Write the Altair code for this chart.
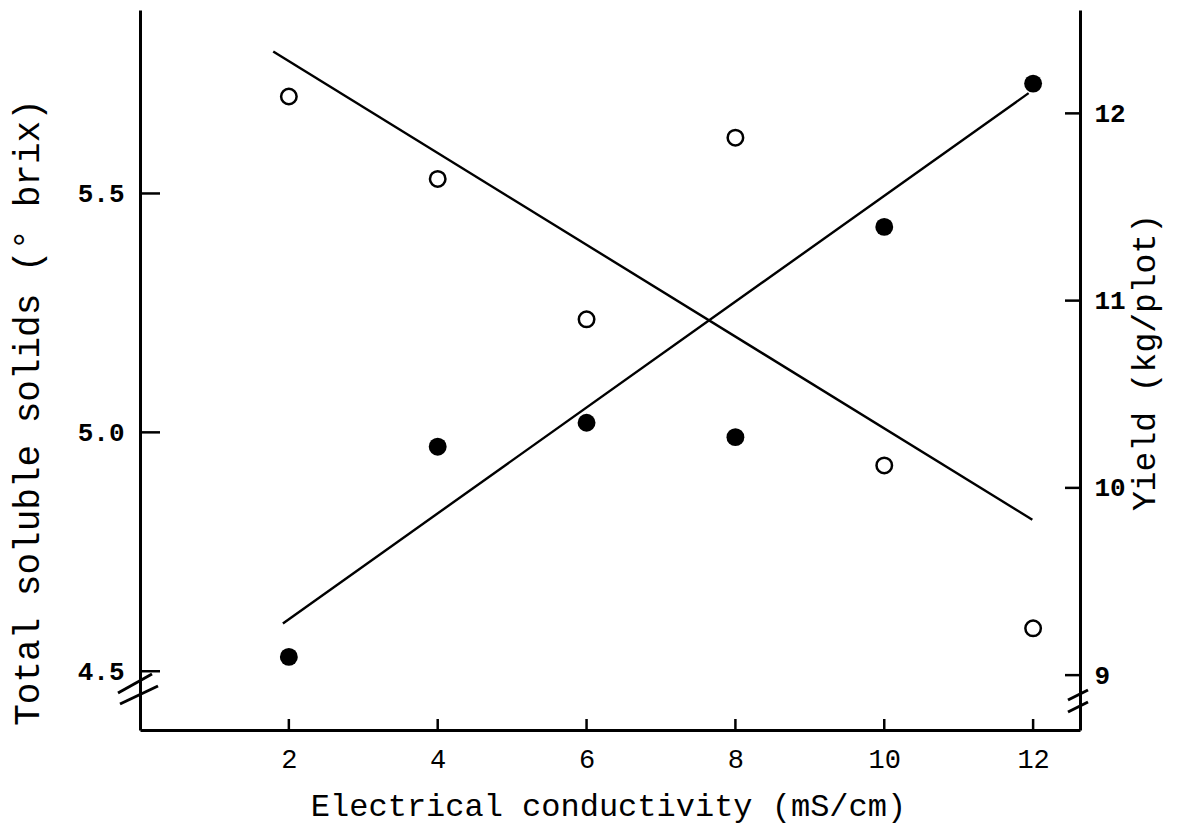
import altair as alt
import pandas as pd

# ---- data ----
ec = [2, 4, 6, 8, 10, 12]                       # Electrical conductivity (mS/cm)
tss = [4.53, 4.97, 5.02, 4.99, 5.43, 5.73]      # filled circles, left axis
yield_kg = [12.09, 11.65, 10.90, 11.87, 10.12, 9.25]  # open circles, right axis

tss_fit_x = [1.92, 11.94]
tss_fit = [4.60, 5.71]
yield_fit_x = [1.79, 11.99]
yield_fit = [12.33, 9.83]

x_ticks = [2, 4, 6, 8, 10, 12]
left_ticks = [4.5, 5.0, 5.5]
right_ticks = [9, 10, 11, 12]

FONT = "Liberation Mono"
W, H = 940, 720

x_scale = alt.Scale(domain=[0, 12.63], nice=False, zero=False)
yl_scale = alt.Scale(domain=[4.377, 5.884], nice=False, zero=False)
yr_scale = alt.Scale(domain=[8.707, 12.552], nice=False, zero=False)

x_axis = alt.Axis(values=x_ticks, format="d", ticks=False, tickSize=0, grid=False,
                  labelPadding=16, labelFont=FONT, labelFontSize=27, labelColor="black",
                  domainColor="black", domainWidth=3,
                  title="Electrical conductivity (mS/cm)", titleFont=FONT, titleFontSize=32,
                  titleFontWeight="normal", titleColor="black",
                  titleX=468, titleY=75, titleAlign="center", titleBaseline="middle")
yl_axis = alt.Axis(values=left_ticks, format=".1f", ticks=False, tickSize=0, grid=False,
                   labelPadding=16, labelFont=FONT, labelFontSize=26, labelColor="black",
                   labelFontWeight="bold",
                   domainColor="black", domainWidth=3,
                   title="Total soluble solids (° brix)", titleFont=FONT, titleFontSize=36,
                   titleFontWeight="normal", titleColor="black", titleAngle=270,
                   titleX=-113, titleY=402, titleAlign="center", titleBaseline="middle")
yr_axis = alt.Axis(orient="right", values=right_ticks, format="d", ticks=False, tickSize=0,
                   grid=False, labelPadding=14, labelFont=FONT, labelFontSize=26,
                   labelFontWeight="bold",
                   labelColor="black", domainColor="black", domainWidth=3,
                   title="Yield (kg/plot)", titleFont=FONT, titleFontSize=33,
                   titleFontWeight="normal", titleColor="black", titleAngle=270,
                   titleX=64, titleY=352, titleAlign="center", titleBaseline="middle")

X = alt.X("x:Q", scale=x_scale, axis=x_axis)
YL = alt.Y("v:Q", scale=yl_scale, axis=yl_axis)
YR = alt.Y("w:Q", scale=yr_scale, axis=yr_axis)

df_tss = pd.DataFrame({"x": ec, "v": tss})
df_tss_fit = pd.DataFrame({"x": tss_fit_x, "v": tss_fit})
df_lt = pd.DataFrame({"v": left_ticks})
df_y = pd.DataFrame({"x": ec, "w": yield_kg})
df_y_fit = pd.DataFrame({"x": yield_fit_x, "w": yield_fit})
df_rt = pd.DataFrame({"w": right_ticks})
df_xt = pd.DataFrame({"x": x_ticks})
one = pd.DataFrame({"a": [0]})

left = alt.layer(
    alt.Chart(df_tss_fit).mark_line(color="black", strokeWidth=2.4).encode(x=X, y=YL),
    alt.Chart(df_tss).mark_circle(size=320, color="black", opacity=1).encode(x=X, y=YL),
    alt.Chart(df_lt).mark_rule(color="black", strokeWidth=2.5).encode(
        y=YL, x=alt.value(0), x2=alt.value(20)),
)
right = alt.layer(
    alt.Chart(df_y_fit).mark_line(color="black", strokeWidth=2.4).encode(x=X, y=YR),
    alt.Chart(df_y).mark_point(shape="circle", size=240, strokeWidth=2.5, color="black",
                               filled=False, opacity=1).encode(x=X, y=YR),
    alt.Chart(df_rt).mark_rule(color="black", strokeWidth=2.5).encode(
        y=YR, x=alt.value(W), x2=alt.value(W - 15)),
)

xt = alt.Chart(df_xt).mark_rule(color="black", strokeWidth=2.5).encode(
    x=X, y=alt.value(H), y2=alt.value(H - 11))

def brk(x1, y1, x2, y2):
    return alt.Chart(one).mark_rule(color="black", strokeWidth=3).encode(
        x=alt.value(x1), y=alt.value(y1), x2=alt.value(x2), y2=alt.value(y2))

breaks = alt.layer(
    brk(-22, 683, 12, 664),
    brk(-20, 694, 18, 676),
    brk(928, 690, 948, 680),
    brk(928, 702, 948, 692),
)

chart = alt.layer(left, right, xt, breaks).resolve_scale(y="independent").properties(
    width=W, height=H,
    autosize=alt.AutoSizeParams(type="none"),
    padding={"left": 132, "top": 2, "right": 89, "bottom": 96},
    background="white",
).configure_view(stroke=None)

chart.save("out.html", embed_options={"renderer": "svg", "actions": False})
